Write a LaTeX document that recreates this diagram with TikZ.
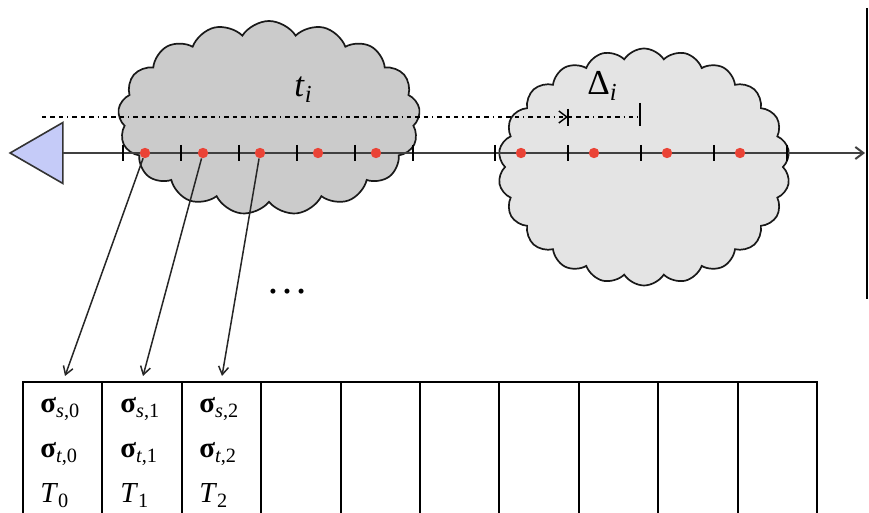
\documentclass[tikz,border=0pt]{standalone}
\usepackage{fontspec}
\setmainfont{Liberation Serif}
\usetikzlibrary{shapes.symbols,shapes.geometric,arrows.meta}

\definecolor{cloudA}{HTML}{CBCBCB}
\definecolor{cloudB}{HTML}{E4E4E4}
\definecolor{trifill}{HTML}{C5CBF8}
\definecolor{dotred}{HTML}{EA4336}

\newcommand{\labfont}{\fontsize{17.5}{20}\selectfont}
\newcommand{\cellfont}{\fontsize{14.5}{17}\selectfont}

\begin{document}
\begin{tikzpicture}[x=0.5pt,y=-0.5pt,
  puffy/.style={cloud, draw=black!90, line width=0.85pt, cloud ignores aspect,
    cloud puff arc=115, inner sep=0pt, outer sep=0pt},
  axisline/.style={line width=1pt, draw=black!75},
  tickline/.style={line width=0.9pt, draw=black},
  sample/.style={circle, fill=dotred, inner sep=0pt, minimum size=5.2pt},
  link/.style={line width=0.75pt, draw=black!85, -{Straight Barb[length=4pt,width=5pt]}},
  dashdot/.style={line width=0.7pt, draw=black,
    dash pattern=on 2.2pt off 2pt on 2.2pt off 2pt on 2.2pt off 2pt on 0.6pt off 2pt},
  cell/.style={draw=black, line width=1pt, minimum width=39.7pt, minimum height=66pt,
    inner sep=0pt, outer sep=0pt},
  celltext/.style={anchor=base west, font=\cellfont, inner sep=0pt},
  label/.style={anchor=base west, font=\labfont, inner sep=0pt}]
\useasboundingbox (0,0) rectangle (869,513);

% the two clouds
\node[puffy, fill=cloudA, cloud puffs=17, minimum width=151pt, minimum height=97pt]
  (cloudone) at (269,118) {};
\node[puffy, fill=cloudB, cloud puffs=22, minimum width=146pt, minimum height=118.5pt]
  (cloudtwo) at (644,167) {};

% source triangle and time axis
\node[regular polygon, regular polygon sides=3, shape border rotate=90,
  fill=trifill, draw=black!80, line width=0.8pt, minimum size=35.2pt,
  inner sep=0pt, outer sep=0pt] (src) at (45.3,153) {};
\coordinate (axisend) at (865,153);
\draw[axisline, -{Straight Barb[length=4pt,width=6pt]}] (src.east) -- (axisend);

% right boundary
\coordinate (wtop) at (867,8);
\coordinate (wbot) at (867,299);
\draw[line width=1.1pt] (wtop) -- (wbot);

% ticks on the axis
\foreach \x in {123,181,239,297,355,413,495,568,641,714,787}
  \draw[tickline] (\x,145) -- (\x,161);

% samples
\foreach \x [count=\i] in {145,203,260,318,376,521,594,667,740}
  \node[sample] (p\i) at (\x,153) {};

% interval markers
\coordinate (ds) at (42,117);
\coordinate (dm) at (568,117);
\coordinate (de) at (638,117);
\draw[dashdot, -{Straight Barb[length=4pt,width=6pt]}] (ds) -- (dm);
\draw[dashdot] (dm) -- (de);
\draw[tickline] (568,109) -- (568,126);
\draw[tickline] (640,103) -- (640,126);

\node[label] (tlab) at (294,97) {\textit{t}\textsubscript{\textit{i}}};
\node[label] (dlab) at (587,95) {Δ\textsubscript{\textit{i}}};

% buffer table
\foreach \i in {0,...,9}
  \node[cell] (col\i) at ({23+79.4*\i+39.7},448) {};

\node[celltext] (s0) at (40,413) {\textbf{σ}\textsubscript{\textit{s},0}};
\node[celltext] (t0) at (40,458) {\textbf{σ}\textsubscript{\textit{t},0}};
\node[celltext] (T0) at (40,503) {\textit{T}\textsubscript{0}};
\node[celltext] (s1) at (120,413) {\textbf{σ}\textsubscript{\textit{s},1}};
\node[celltext] (t1) at (120,458) {\textbf{σ}\textsubscript{\textit{t},1}};
\node[celltext] (T1) at (120,503) {\textit{T}\textsubscript{1}};
\node[celltext] (s2) at (199,413) {\textbf{σ}\textsubscript{\textit{s},2}};
\node[celltext] (t2) at (199,458) {\textbf{σ}\textsubscript{\textit{t},2}};
\node[celltext] (T2) at (199,503) {\textit{T}\textsubscript{2}};

% samples written into the buffer
\coordinate (ea) at (65,376);
\coordinate (eb) at (143,376);
\coordinate (ec) at (222,376);
\draw[link] (p1) -- (ea);
\draw[link] (p2) -- (eb);
\draw[link] (p3) -- (ec);

\node[font=\fontsize{21}{24}\selectfont, inner sep=0pt] (more) at (287,292) {\textellipsis};
\end{tikzpicture}
\end{document}
